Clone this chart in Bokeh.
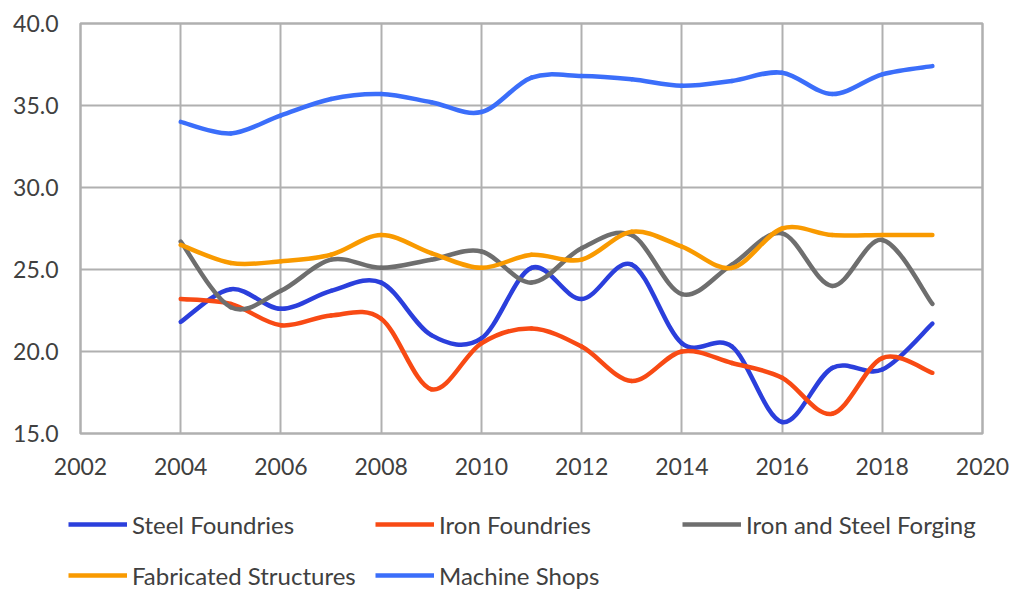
from bokeh.plotting import figure
from bokeh.layouts import column
from bokeh.models import (Range1d, FixedTicker, PrintfTickFormatter, Legend, LegendItem,
                          ColumnDataSource)
from bokeh.embed import file_html
from bokeh.resources import INLINE

years = list(range(2004, 2020))
steel_foundries = [21.8, 23.8, 22.6, 23.7, 24.2, 21.0, 20.8, 25.1, 23.2, 25.3, 20.5, 20.3, 15.7, 19.0, 18.9, 21.7]
iron_foundries = [23.2, 22.9, 21.6, 22.2, 22.0, 17.7, 20.5, 21.4, 20.3, 18.2, 20.0, 19.3, 18.4, 16.2, 19.6, 18.7]
forging = [26.7, 22.7, 23.7, 25.6, 25.1, 25.6, 26.1, 24.2, 26.3, 27.1, 23.5, 25.3, 27.2, 24.0, 26.8, 22.9]
fabricated = [26.5, 25.4, 25.5, 25.9, 27.1, 26.0, 25.1, 25.9, 25.6, 27.3, 26.4, 25.1, 27.5, 27.1, 27.1, 27.1]
machine_shops = [34.0, 33.3, 34.4, 35.4, 35.7, 35.2, 34.6, 36.7, 36.8, 36.6, 36.2, 36.5, 37.0, 35.7, 36.9, 37.4]

series_names = ["Steel Foundries", "Iron Foundries", "Iron and Steel Forging",
                "Fabricated Structures", "Machine Shops"]
series_values = [steel_foundries, iron_foundries, forging, fabricated, machine_shops]
series_colors = ["#2B3FDC", "#F84A14", "#6E6E6E", "#F99A00", "#3B6EFA"]

x_ticks = list(range(2002, 2021, 2))
y_ticks = [15, 20, 25, 30, 35, 40]

FONT = "Lato"
TEXT_COLOR = "#404040"
GRID_COLOR = "#B0B0B0"

p = figure(width=1024, height=500, output_backend="svg", toolbar_location=None,
           x_range=Range1d(2002, 2020), y_range=Range1d(15, 40),
           min_border_left=80, min_border_right=42, min_border_top=23, min_border_bottom=67,
           frame_width=902, frame_height=410)
p.frame_align = False

p.background_fill_color = "white"
p.border_fill_color = "white"
p.outline_line_color = GRID_COLOR
p.outline_line_width = 2.5

for ax in (p.xaxis[0], p.yaxis[0]):
    ax.axis_line_color = None
    ax.major_tick_line_color = None
    ax.minor_tick_line_color = None
    ax.major_tick_out = 0
    ax.major_tick_in = 0
    ax.major_label_text_font = FONT
    ax.major_label_text_font_size = "23px"
    ax.major_label_text_color = TEXT_COLOR

p.xaxis.ticker = FixedTicker(ticks=x_ticks)
p.xaxis.major_label_standoff = 24
p.yaxis.ticker = FixedTicker(ticks=y_ticks)
p.yaxis.formatter = PrintfTickFormatter(format="%.1f")
p.yaxis.major_label_standoff = 22

p.xgrid.ticker = FixedTicker(ticks=x_ticks)
p.ygrid.ticker = FixedTicker(ticks=y_ticks)
for g in (p.xgrid[0], p.ygrid[0]):
    g.grid_line_color = GRID_COLOR
    g.grid_line_width = 2


def smooth_segments(xs, ys):
    n = len(xs)
    x0, y0, x1, y1, cx0, cy0, cx1, cy1 = [], [], [], [], [], [], [], []
    for i in range(n - 1):
        im1 = max(i - 1, 0)
        ip2 = min(i + 2, n - 1)
        x0.append(xs[i]); y0.append(ys[i])
        x1.append(xs[i + 1]); y1.append(ys[i + 1])
        cx0.append(xs[i] + (xs[i + 1] - xs[im1]) / 6.0)
        cy0.append(ys[i] + (ys[i + 1] - ys[im1]) / 6.0)
        cx1.append(xs[i + 1] - (xs[ip2] - xs[i]) / 6.0)
        cy1.append(ys[i + 1] - (ys[ip2] - ys[i]) / 6.0)
    return dict(x0=x0, y0=y0, x1=x1, y1=y1, cx0=cx0, cy0=cy0, cx1=cx1, cy1=cy1)


for name, vals, color in zip(series_names, series_values, series_colors):
    src = ColumnDataSource(smooth_segments(years, vals))
    p.bezier(x0="x0", y0="y0", x1="x1", y1="y1", cx0="cx0", cy0="cy0", cx1="cx1", cy1="cy1",
             source=src, line_color=color, line_width=4.5, line_cap="round")

# legend strip below the chart (its own frame covers the whole strip)
pl = figure(width=1024, height=94, output_backend="svg", toolbar_location=None,
            x_axis_type=None, y_axis_type=None, min_border=0,
            x_range=Range1d(0, 1), y_range=Range1d(0, 1))
pl.frame_align = False
pl.outline_line_color = None
pl.grid.visible = False
pl.background_fill_color = "white"
pl.border_fill_color = "white"

items = []
for name, vals, color in zip(series_names, series_values, series_colors):
    # same series, outside this strip's ranges: only its legend swatch shows
    proxy = pl.line(x=years, y=vals, line_color=color, line_width=4.5)
    items.append(LegendItem(label=name, renderers=[proxy]))

legend = Legend(items=items, orientation="horizontal", ncols=3,
                location=(68, 1), padding=0, margin=0,
                glyph_width=59, glyph_height=36, label_height=36, label_width=228,
                label_standoff=5, spacing=15,
                label_text_font=FONT, label_text_font_size="24px",
                label_text_color=TEXT_COLOR,
                border_line_alpha=0, background_fill_alpha=0)
pl.add_layout(legend, "center")

layout = column(p, pl, spacing=0)
open("out.html", "w").write(file_html(layout, INLINE))
